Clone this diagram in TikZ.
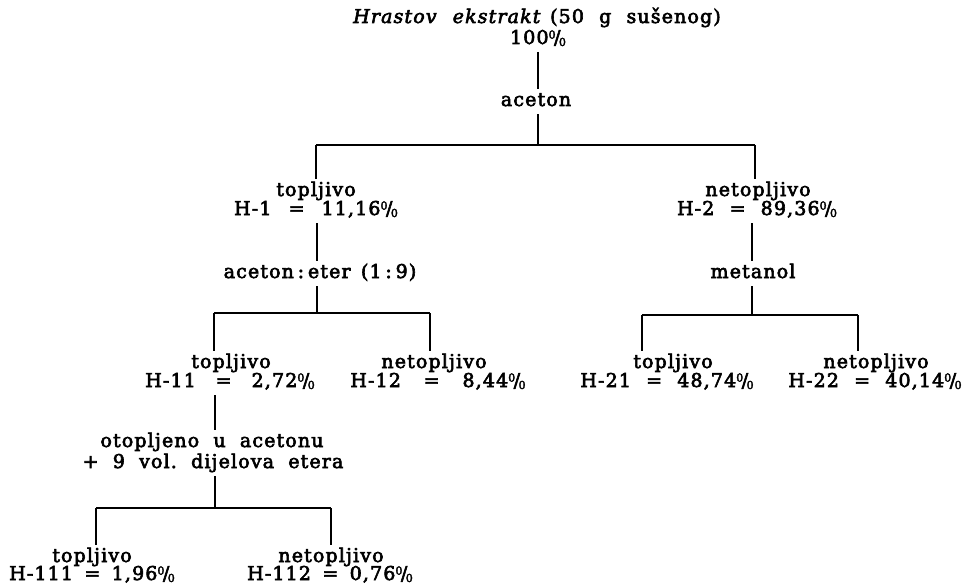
\documentclass[tikz,border=0pt]{standalone}
\usepackage{fontspec}
\setmainfont[LetterSpace=6,FakeBold=3.2]{DejaVu Serif}
\newcommand\pc{\raisebox{.55ex}{\fontsize{11}{11}\selectfont 0}\kern-.08em/\kern-.08em\raisebox{-.2ex}{\fontsize{11}{11}\selectfont 0}}
\newcommand\eqsp[1]{\hspace{#1em}}
\begin{document}
\begin{tikzpicture}[x=1pt,y=-1pt,
  lbl/.style={font=\fontsize{19}{20}\selectfont, inner sep=0pt, outer sep=3pt,
    text height=14pt, text depth=5pt, anchor=base},
  ln/.style={line width=1.4pt}]
\fill[white] (0,0) rectangle (964,586);
\useasboundingbox (0,0) rectangle (964,586);
% texts
\node[lbl] (title) at (537,23) {\textit{Hrastov\hspace{.85em}ekstrakt}\hspace{.45em}(50\hspace{.8em}g\hspace{.8em}sušenog)};
\node[lbl] (p0) at (538,44) {100\pc};
\node[lbl] (ac0) at (536,106) {aceton};
\node[lbl] (t1a) at (316,196) {topljivo};
\node[lbl] (t1b) at (316,215) {H-1\eqsp{.9}=\eqsp{.9}11,16\pc};
\node[lbl] (ae) at (320,278) {aceton\kern.2em:\kern.2em eter\hspace{.55em}(1\kern.2em:\kern.2em9)};
\node[lbl] (n2a) at (758,196) {netopljivo};
\node[lbl] (n2b) at (757,215) {H-2\eqsp{.8}=\eqsp{.8}89,36\pc};
\node[lbl] (me) at (753,278) {metanol};
\node[lbl] (t11a) at (231,368) {topljivo};
\node[lbl] (t11b) at (230,387) {H-11\eqsp{1.05}=\eqsp{1.05}2,72\pc};
\node[lbl] (n12a) at (434,368) {netopljivo};
\node[lbl] (n12b) at (438,387) {H-12\eqsp{1.2}=\eqsp{1.2}8,44\pc};
\node[lbl] (ot1) at (212,447) {otopljeno\hspace{.75em}u\hspace{.75em}acetonu};
\node[lbl] (ot2) at (213,468) {+\hspace{.75em}9\hspace{.75em}vol.\hspace{.75em}dijelova\hspace{.75em}etera};
\node[lbl] (t111a) at (92,562) {topljivo};
\node[lbl] (t111b) at (92,580) {H-111\eqsp{.6}=\eqsp{.6}1,96\pc};
\node[lbl] (n112a) at (331,562) {netopljivo};
\node[lbl] (n112b) at (330,580) {H-112\eqsp{.6}=\eqsp{.6}0,76\pc};
\node[lbl] (t21a) at (673,368) {topljivo};
\node[lbl] (t21b) at (667,387) {H-21\eqsp{.8}=\eqsp{.8}48,74\pc};
\node[lbl] (n22a) at (876,368) {netopljivo};
\node[lbl] (n22b) at (875,387) {H-22\eqsp{.8}=\eqsp{.8}40,14\pc};
% junctions
\coordinate (j0) at (538,145);
\coordinate (b1l) at (316,145);
\coordinate (b1r) at (755,145);
\coordinate (j1) at (317,313);
\coordinate (b2l) at (214,313);
\coordinate (b2r) at (430,313);
\coordinate (j2) at (752,315);
\coordinate (b3l) at (642,315);
\coordinate (b3r) at (858,315);
\coordinate (j3) at (215,508);
\coordinate (b4l) at (96,508);
\coordinate (b4r) at (331,508);
% connectors
\draw[ln] (p0.south -| j0) -- (ac0.north -| j0);
\draw[ln] (ac0.south -| j0) -- (j0);
\draw[ln] (b1l) -- (b1r);
\draw[ln] (b1l) -- (t1a.north -| b1l);
\draw[ln] (b1r) -- (n2a.north -| b1r);
\draw[ln] (t1b.south -| j1) -- (ae.north -| j1);
\draw[ln] (ae.south -| j1) -- (j1);
\draw[ln] (b2l) -- (b2r);
\draw[ln] (b2l) -- (t11a.north -| b2l);
\draw[ln] (b2r) -- (n12a.north -| b2r);
\draw[ln] (n2b.south -| j2) -- (me.north -| j2);
\draw[ln] (me.south -| j2) -- (j2);
\draw[ln] (b3l) -- (b3r);
\draw[ln] (b3l) -- (t21a.north -| b3l);
\draw[ln] (b3r) -- (n22a.north -| b3r);
\draw[ln] (t11b.south -| j3) -- (ot1.north -| j3);
\draw[ln] (ot2.south -| j3) -- (j3);
\draw[ln] (b4l) -- (b4r);
\draw[ln] (b4l) -- (t111a.north -| b4l);
\draw[ln] (b4r) -- (n112a.north -| b4r);
\end{tikzpicture}
\end{document}
